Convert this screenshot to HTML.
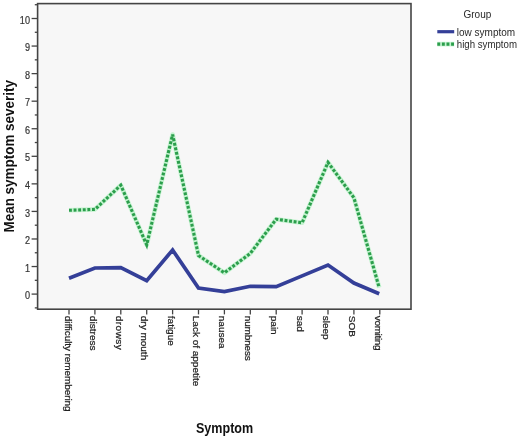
<!DOCTYPE html>
<html><head><meta charset="utf-8"><style>
html,body{margin:0;padding:0;background:#fff;}
body{width:520px;height:438px;overflow:hidden;}
svg{display:block;filter:blur(0.3px);}
text{font-family:"Liberation Sans",sans-serif;}
.yt{font-size:10.6px;fill:#333;stroke:#333;stroke-width:0.2px;}
.xt{font-size:10px;fill:#222;stroke:#222;stroke-width:0.25px;}
.lg{font-size:10px;fill:#2a2a2a;}
.at{font-size:14.2px;font-weight:bold;fill:#111;}
</style></head><body>
<svg width="520" height="438" viewBox="0 0 520 438">
<rect x="37.6" y="3.6" width="373.4" height="305.59999999999997" fill="#F7F7F7"/>
<line x1="34.800000000000004" y1="307.88" x2="37.6" y2="307.88" stroke="#444" stroke-width="1.3"/>
<line x1="31.6" y1="294.10" x2="37.6" y2="294.10" stroke="#444" stroke-width="1.3"/>
<text transform="translate(30.00,299.20) scale(0.86,1)" text-anchor="end" class="yt">0</text>
<line x1="34.800000000000004" y1="280.32" x2="37.6" y2="280.32" stroke="#444" stroke-width="1.3"/>
<line x1="31.6" y1="266.54" x2="37.6" y2="266.54" stroke="#444" stroke-width="1.3"/>
<text transform="translate(30.00,271.64) scale(0.86,1)" text-anchor="end" class="yt">1</text>
<line x1="34.800000000000004" y1="252.76" x2="37.6" y2="252.76" stroke="#444" stroke-width="1.3"/>
<line x1="31.6" y1="238.98" x2="37.6" y2="238.98" stroke="#444" stroke-width="1.3"/>
<text transform="translate(30.00,244.08) scale(0.86,1)" text-anchor="end" class="yt">2</text>
<line x1="34.800000000000004" y1="225.20" x2="37.6" y2="225.20" stroke="#444" stroke-width="1.3"/>
<line x1="31.6" y1="211.42" x2="37.6" y2="211.42" stroke="#444" stroke-width="1.3"/>
<text transform="translate(30.00,216.52) scale(0.86,1)" text-anchor="end" class="yt">3</text>
<line x1="34.800000000000004" y1="197.64" x2="37.6" y2="197.64" stroke="#444" stroke-width="1.3"/>
<line x1="31.6" y1="183.86" x2="37.6" y2="183.86" stroke="#444" stroke-width="1.3"/>
<text transform="translate(30.00,188.96) scale(0.86,1)" text-anchor="end" class="yt">4</text>
<line x1="34.800000000000004" y1="170.08" x2="37.6" y2="170.08" stroke="#444" stroke-width="1.3"/>
<line x1="31.6" y1="156.30" x2="37.6" y2="156.30" stroke="#444" stroke-width="1.3"/>
<text transform="translate(30.00,161.40) scale(0.86,1)" text-anchor="end" class="yt">5</text>
<line x1="34.800000000000004" y1="142.52" x2="37.6" y2="142.52" stroke="#444" stroke-width="1.3"/>
<line x1="31.6" y1="128.74" x2="37.6" y2="128.74" stroke="#444" stroke-width="1.3"/>
<text transform="translate(30.00,133.84) scale(0.86,1)" text-anchor="end" class="yt">6</text>
<line x1="34.800000000000004" y1="114.96" x2="37.6" y2="114.96" stroke="#444" stroke-width="1.3"/>
<line x1="31.6" y1="101.18" x2="37.6" y2="101.18" stroke="#444" stroke-width="1.3"/>
<text transform="translate(30.00,106.28) scale(0.86,1)" text-anchor="end" class="yt">7</text>
<line x1="34.800000000000004" y1="87.40" x2="37.6" y2="87.40" stroke="#444" stroke-width="1.3"/>
<line x1="31.6" y1="73.62" x2="37.6" y2="73.62" stroke="#444" stroke-width="1.3"/>
<text transform="translate(30.00,78.72) scale(0.86,1)" text-anchor="end" class="yt">8</text>
<line x1="34.800000000000004" y1="59.84" x2="37.6" y2="59.84" stroke="#444" stroke-width="1.3"/>
<line x1="31.6" y1="46.06" x2="37.6" y2="46.06" stroke="#444" stroke-width="1.3"/>
<text transform="translate(30.00,51.16) scale(0.86,1)" text-anchor="end" class="yt">9</text>
<line x1="34.800000000000004" y1="32.28" x2="37.6" y2="32.28" stroke="#444" stroke-width="1.3"/>
<line x1="31.6" y1="18.50" x2="37.6" y2="18.50" stroke="#444" stroke-width="1.3"/>
<text transform="translate(30.00,23.60) scale(0.86,1)" text-anchor="end" class="yt">10</text>
<line x1="34.800000000000004" y1="4.72" x2="37.6" y2="4.72" stroke="#444" stroke-width="1.3"/>
<line x1="69.00" y1="309.2" x2="69.00" y2="314.4" stroke="#444" stroke-width="1.3"/>
<text transform="translate(64.60,315.8) rotate(90) scale(1,0.92)" class="xt" textLength="95.8" lengthAdjust="spacing">difficulty remembering</text>
<line x1="94.90" y1="309.2" x2="94.90" y2="314.4" stroke="#444" stroke-width="1.3"/>
<text transform="translate(89.70,315.8) rotate(90) scale(1,0.92)" class="xt" textLength="34.8" lengthAdjust="spacing">distress</text>
<line x1="120.80" y1="309.2" x2="120.80" y2="314.4" stroke="#444" stroke-width="1.3"/>
<text transform="translate(115.60,315.8) rotate(90) scale(1,0.92)" class="xt" textLength="34.0" lengthAdjust="spacing">drowsy</text>
<line x1="146.70" y1="309.2" x2="146.70" y2="314.4" stroke="#444" stroke-width="1.3"/>
<text transform="translate(141.20,315.8) rotate(90) scale(1,0.92)" class="xt">dry mouth</text>
<line x1="172.60" y1="309.2" x2="172.60" y2="314.4" stroke="#444" stroke-width="1.3"/>
<text transform="translate(168.20,315.8) rotate(90) scale(1,0.92)" class="xt">fatigue</text>
<line x1="198.50" y1="309.2" x2="198.50" y2="314.4" stroke="#444" stroke-width="1.3"/>
<text transform="translate(193.00,315.8) rotate(90) scale(1,0.92)" class="xt">Lack of appetite</text>
<line x1="224.40" y1="309.2" x2="224.40" y2="314.4" stroke="#444" stroke-width="1.3"/>
<text transform="translate(218.80,315.8) rotate(90) scale(1,0.92)" class="xt">nausea</text>
<line x1="250.30" y1="309.2" x2="250.30" y2="314.4" stroke="#444" stroke-width="1.3"/>
<text transform="translate(245.10,315.8) rotate(90) scale(1,0.92)" class="xt" textLength="45.0" lengthAdjust="spacing">numbness</text>
<line x1="276.20" y1="309.2" x2="276.20" y2="314.4" stroke="#444" stroke-width="1.3"/>
<text transform="translate(270.80,315.8) rotate(90) scale(1,0.92)" class="xt">pain</text>
<line x1="302.10" y1="309.2" x2="302.10" y2="314.4" stroke="#444" stroke-width="1.3"/>
<text transform="translate(296.60,315.8) rotate(90) scale(1,0.92)" class="xt">sad</text>
<line x1="328.00" y1="309.2" x2="328.00" y2="314.4" stroke="#444" stroke-width="1.3"/>
<text transform="translate(323.30,315.8) rotate(90) scale(1,0.92)" class="xt">sleep</text>
<line x1="353.90" y1="309.2" x2="353.90" y2="314.4" stroke="#444" stroke-width="1.3"/>
<text transform="translate(348.70,315.8) rotate(90) scale(1,0.92)" class="xt">SOB</text>
<line x1="379.80" y1="309.2" x2="379.80" y2="314.4" stroke="#444" stroke-width="1.3"/>
<text transform="translate(374.60,315.8) rotate(90) scale(1,0.92)" class="xt" textLength="34.8" lengthAdjust="spacing">vomiting</text>
<polyline points="69.00,278.20 94.90,268.00 120.80,267.60 146.70,280.60 172.60,250.00 198.50,288.00 224.40,291.60 250.30,286.30 276.20,286.60 302.10,275.90 328.00,265.00 353.90,283.00 379.20,293.80" fill="none" stroke="#343F98" stroke-width="3.7" stroke-linejoin="miter" stroke-miterlimit="10" stroke-linecap="butt"/>
<polyline points="69.00,210.30 94.90,209.40 120.80,185.20 146.70,244.90 172.60,134.50 198.50,255.50 224.40,272.80 250.30,253.40 276.20,219.20 302.10,222.80 328.00,162.40 353.90,197.70 379.20,287.70" fill="none" stroke="#C4F3D0" stroke-width="4.6" stroke-linejoin="round"/>
<polyline points="69.00,210.30 94.90,209.40 120.80,185.20 146.70,244.90 172.60,134.50 198.50,255.50 224.40,272.80 250.30,253.40 276.20,219.20 302.10,222.80 328.00,162.40 353.90,197.70 379.20,287.70" fill="none" stroke="#2C9E4C" stroke-width="3.1" stroke-dasharray="2.9 1.7" stroke-linejoin="miter"/>
<rect x="37.6" y="3.6" width="373.4" height="305.59999999999997" fill="none" stroke="#444" stroke-width="1.6"/>
<text transform="translate(13.9,232.5) rotate(-90)" class="at" textLength="152.4" lengthAdjust="spacingAndGlyphs">Mean symptom severity</text>
<text x="196.0" y="433.4" class="at" textLength="57.2" lengthAdjust="spacingAndGlyphs">Symptom</text>
<text x="463.5" y="18.4" class="lg">Group</text>
<line x1="437.3" y1="31.7" x2="454.2" y2="31.7" stroke="#343F98" stroke-width="3.2"/>
<text x="456.8" y="35.5" class="lg">low symptom</text>
<line x1="437.3" y1="44.1" x2="454.2" y2="44.1" stroke="#C4F3D0" stroke-width="4.6"/>
<line x1="437.3" y1="44.1" x2="454.2" y2="44.1" stroke="#2C9E4C" stroke-width="3.1" stroke-dasharray="2.9 1.7"/>
<text x="456.8" y="47.6" class="lg" textLength="60.2" lengthAdjust="spacingAndGlyphs">high symptom</text>
</svg>
</body></html>
